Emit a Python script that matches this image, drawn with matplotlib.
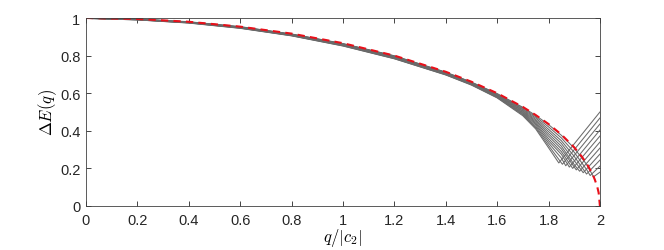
import matplotlib
matplotlib.use('Agg')
import matplotlib.pyplot as plt

plt.rcParams['font.family'] = ['Liberation Sans', 'DejaVu Sans']
plt.rcParams['mathtext.fontset'] = 'cm'

# common q grid for the descending part of the gray curves
q_grid = [0, 0.2, 0.4, 0.6, 0.8, 1.0, 1.2, 1.4, 1.5, 1.6, 1.7, 1.75, 1.8, 1.85, 1.9, 1.95]

# gray curves: values on q_grid (up to their minimum), then minimum and end value at q=2
gray_vals = [
    [0.998, 0.990, 0.973, 0.945, 0.905, 0.851, 0.783, 0.697, 0.643, 0.575, 0.480, 0.410, 0.310],
    [0.998, 0.990, 0.974, 0.946, 0.906, 0.852, 0.784, 0.698, 0.645, 0.577, 0.485, 0.417, 0.322],
    [0.998, 0.991, 0.975, 0.947, 0.907, 0.854, 0.786, 0.700, 0.647, 0.580, 0.489, 0.424, 0.335, 0.255],
    [0.999, 0.991, 0.975, 0.948, 0.908, 0.855, 0.788, 0.702, 0.648, 0.582, 0.494, 0.432, 0.347, 0.275],
    [0.999, 0.992, 0.976, 0.949, 0.909, 0.857, 0.790, 0.703, 0.650, 0.584, 0.498, 0.439, 0.359, 0.289],
    [0.999, 0.992, 0.977, 0.950, 0.910, 0.858, 0.791, 0.705, 0.652, 0.587, 0.503, 0.446, 0.372, 0.304],
    [0.999, 0.993, 0.977, 0.950, 0.911, 0.859, 0.793, 0.706, 0.653, 0.589, 0.507, 0.453, 0.384, 0.318, 0.220],
    [1.000, 0.993, 0.978, 0.951, 0.912, 0.861, 0.795, 0.708, 0.655, 0.591, 0.512, 0.460, 0.396, 0.333, 0.242],
    [1.000, 0.994, 0.978, 0.952, 0.913, 0.862, 0.796, 0.709, 0.656, 0.593, 0.516, 0.468, 0.408, 0.347, 0.264],
    [1.000, 0.994, 0.979, 0.953, 0.914, 0.863, 0.798, 0.711, 0.658, 0.596, 0.521, 0.475, 0.421, 0.362, 0.286, 0.190],
    [1.000, 0.995, 0.980, 0.954, 0.915, 0.864, 0.799, 0.712, 0.659, 0.598, 0.525, 0.482, 0.433, 0.376, 0.308, 0.218],
]
q_min = [1.840, 1.854, 1.867, 1.881, 1.894, 1.908, 1.921, 1.935, 1.948, 1.962, 1.975]
e_min = [0.229, 0.222, 0.214, 0.207, 0.200, 0.192, 0.185, 0.177, 0.170, 0.162, 0.155]
e_end = [0.500, 0.468, 0.436, 0.404, 0.372, 0.340, 0.308, 0.276, 0.244, 0.212, 0.180]

# red dashed limit curve
q_red = [0, 0.2, 0.4, 0.6, 0.8, 1.0, 1.2, 1.4, 1.5, 1.6, 1.7, 1.75, 1.8, 1.85, 1.9,
         1.93, 1.95, 1.97, 1.98, 1.99, 1.995, 2.0]
e_red = [1.0, 0.995, 0.980, 0.954, 0.917, 0.866, 0.800, 0.714, 0.661, 0.600, 0.527, 0.484,
         0.436, 0.380, 0.312, 0.262, 0.222, 0.173, 0.141, 0.100, 0.071, 0.0]

fig = plt.figure(figsize=(6.64, 2.51), dpi=100)
ax = fig.add_axes([0.1295, 0.1753, 0.774, 0.749])

for vals, qm, em, ee in zip(gray_vals, q_min, e_min, e_end):
    qs = q_grid[:len(vals)] + [qm, 2.0]
    es = vals + [em, ee]
    ax.plot(qs, es, color='#6a6a6a', lw=0.75)

ax.plot(q_red, e_red, color='#e8101a', lw=1.5, ls=(0, (3.5, 2.5)))

ax.set_xlim(0, 2)
ax.set_ylim(0, 1)
xt = [0, 0.2, 0.4, 0.6, 0.8, 1, 1.2, 1.4, 1.6, 1.8, 2]
ax.set_xticks(xt)
ax.set_xticklabels(['0', '0.2', '0.4', '0.6', '0.8', '1', '1.2', '1.4', '1.6', '1.8', '2'])
ax.set_yticks([0, 0.2, 0.4, 0.6, 0.8, 1])
ax.set_yticklabels(['0', '0.2', '0.4', '0.6', '0.8', '1'])
ax.tick_params(direction='in', top=True, right=True, length=3.5, width=0.6,
               labelsize=10.5, colors='#262626')
ax.tick_params(axis='x', pad=5)
ax.tick_params(axis='y', pad=4)
for s in ax.spines.values():
    s.set_color('#404040')
    s.set_linewidth(0.6)

ax.set_xlabel(r'$q/|c_2|$', fontsize=12, labelpad=-1)
ax.set_ylabel(r'$\Delta E(q)$', fontsize=12, labelpad=1)

fig.savefig('out.png', dpi=100)
